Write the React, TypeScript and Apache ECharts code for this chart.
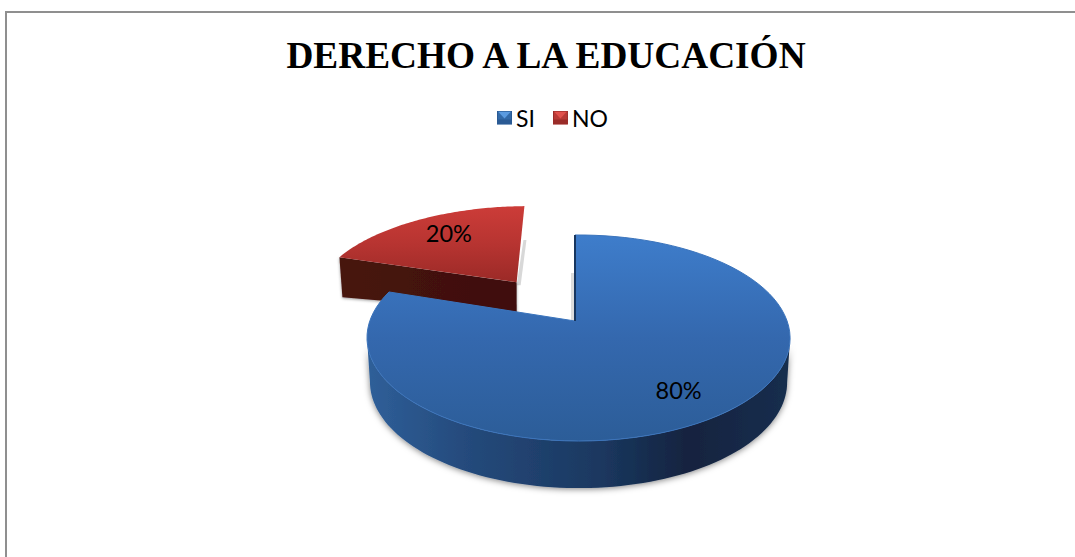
import React, { useEffect, useRef } from "react";
import * as echarts from "echarts";

const titleText = "DERECHO A LA EDUCACIÓN";
const categories = ["SI", "NO"];
const values = [80, 20];
const percentLabels = ["80%", "20%"];

// projection of the tilted disc onto the page
const CX = 575, CY = 321, KY = 100.2, PC = 0.165, PE = -0.0165;
const KX_BY_SLICE = [208.6, 216];
const DY_BY_SLICE = [0, -1.5];
const EXPLODE = [0, 0.492];
const LABEL_R = [0.754, 0.72];
const LABEL_DX = [0, 5];
const LABEL_DY = [0, -2.5];

function project(s: number, u: number, kx: number): [number, number] {
  const w = 1 + PC * u + PE * s;
  return [CX + (kx * s) / w, CY - (KY * u) / w];
}
const total = values.reduce((a, b) => a + b, 0);
function sliceAngles(i: number): [number, number] {
  let a = 0;
  for (let k = 0; k < i; k++) a += values[k];
  return [(a / total) * Math.PI * 2, ((a + values[i]) / total) * Math.PI * 2];
}
function point(i: number, theta: number, r = 1): [number, number] {
  const [a, b] = sliceAngles(i);
  const mid = (a + b) / 2;
  const e = EXPLODE[i];
  const p = project(r * Math.sin(theta) + e * Math.sin(mid), r * Math.cos(theta) + e * Math.cos(mid), KX_BY_SLICE[i]);
  return [p[0], p[1] + DY_BY_SLICE[i]];
}
function arc(i: number, from: number, to: number, n = 90): [number, number][] {
  const out: [number, number][] = [];
  for (let k = 0; k <= n; k++) out.push(point(i, from + ((to - from) * k) / n));
  return out;
}
const lowerBlue = (p: [number, number]): [number, number] => {
  const d = 44 + (p[1] - 338) * 0.03;
  return [578.5 + (p[0] - 578.5) * 0.986, p[1] + d];
};
const lowerRed = (p: [number, number]): [number, number] => {
  const d = 30 + ((518 - p[0]) * 10) / 178;
  return [p[0] + ((518 - p[0]) * 3) / 178, p[1] + d];
};
const vgrad = (stops: [number, string][]) => ({
  type: "linear", x: 0, y: 0, x2: 0, y2: 1, global: false,
  colorStops: stops.map(([offset, color]) => ({ offset, color })),
});
const hgrad = (stops: [number, string][]) => ({
  type: "linear", x: 0, y: 0, x2: 1, y2: 0, global: false,
  colorStops: stops.map(([offset, color]) => ({ offset, color })),
});

function labelOf(i: number, text: string) {
  const [a, b] = sliceAngles(i);
  const mid = (a + b) / 2;
  const p = point(i, mid, LABEL_R[i]);
  return {
    type: "text",
    style: {
      text, x: p[0] + LABEL_DX[i], y: p[1] + LABEL_DY[i], align: "center", verticalAlign: "middle",
      font: "23.5px Lato, sans-serif", fill: "#000",
    },
    z2: 10,
  };
}

// widest points of the disc: the side wall runs between them
function extremeAngles(i: number): [number, number] {
  let best: [number, number] = [0, 0];
  let maxX = -Infinity, minX = Infinity;
  for (let k = 0; k < 720; k++) {
    const t = (k / 720) * Math.PI * 2;
    const x = point(i, t)[0];
    if (x > maxX) { maxX = x; best[0] = t; }
    if (x < minX) { minX = x; best[1] = t; }
  }
  return best;
}

function renderBlue(_: any, api: any) {
  const i = categories.indexOf("SI");
  const [a, b] = sliceAngles(i);
  const top = arc(i, a, b);
  const apex = point(i, 0, 0);
  const [tr, tl] = extremeAngles(i);
  const wallTop = arc(i, tr, Math.min(tl, b));
  const wall = wallTop.concat(wallTop.map(lowerBlue).reverse());
  api.value(0);
  return {
    type: "group",
    children: [
      {
        type: "polygon", shape: { points: [[571, 273], [575, 273], [576, 321], [571, 320]] },
        style: { fill: "#dcdcdc" },
      },
      {
        type: "polygon", shape: { points: wall },
        style: {
          fill: hgrad([[0, "#2f5f99"], [0.25, "#24497a"], [0.55, "#1b3860"], [0.76, "#12233f"], [1, "#172e4e"]]),
          shadowBlur: 6, shadowColor: "rgba(0,0,0,0.5)", shadowOffsetY: 1,
        },
      },
      {
        type: "polygon", shape: { points: top.concat([apex]) },
        style: {
          fill: vgrad([[0, "#3e7dcb"], [0.5, "#3468ae"], [1, "#2c5d98"]]),
          stroke: "#3b74bc", lineWidth: 1,
        },
      },
      {
        type: "polyline", shape: { points: [top[0], apex] },
        style: { stroke: "#17365f", lineWidth: 2, fill: "none" },
      },
      labelOf(i, percentLabels[i]),
    ],
  };
}

function renderRed(_: any, api: any) {
  const i = categories.indexOf("NO");
  const top = arc(i, sliceAngles(i)[0], sliceAngles(i)[1]);
  const apex = point(i, 0, 0);
  const face = [top[0], apex, lowerRed(apex), lowerRed(top[0])];
  const end = top[top.length - 1];
  api.value(0);
  return {
    type: "group",
    children: [
      {
        type: "polygon",
        shape: { points: [[end[0] - 1, end[1] + 34], [end[0] + 2, end[1] + 34], [apex[0] + 4, apex[1] + 3], [apex[0], apex[1] + 3]] },
        style: { fill: "#d8d8d8" },
      },
      {
        type: "polygon", shape: { points: face },
        style: {
          fill: hgrad([[0, "#471411"], [1, "#3f0f0d"]]),
          shadowBlur: 3, shadowColor: "rgba(0,0,0,0.4)", shadowOffsetY: 1,
        },
      },
      {
        type: "polygon", shape: { points: top.concat([apex]) },
        style: { fill: vgrad([[0, "#cc3c38"], [0.5, "#b73431"], [1, "#9b2a27"]]) },
      },
      labelOf(i, percentLabels[i]),
    ],
  };
}

const iconSvg = (light: string, mid: string, dark: string) =>
  "image://data:image/svg+xml," +
  encodeURIComponent(
    `<svg xmlns="http://www.w3.org/2000/svg" width="15" height="14" viewBox="0 0 15 14"><rect width="15" height="14" fill="${mid}"/><rect y="9" width="15" height="5" fill="${dark}"/><polygon points="1,1 14,1 7.5,8" fill="${light}"/><rect x="0.5" y="0.5" width="14" height="13" fill="none" stroke="${dark}"/></svg>`
  );

export default function App() {
  const ref = useRef<HTMLDivElement>(null);
  useEffect(() => {
    document.body.style.margin = "0";
    document.body.style.overflow = "hidden";
    const chart = echarts.init(ref.current!, undefined, { renderer: "svg" });
    chart.setOption({
      animation: false,
      backgroundColor: "#fff",
      title: {
        text: titleText,
        left: 541,
        top: 32,
        textAlign: "center",
        textStyle: {
          fontFamily: "'Liberation Serif', serif",
          fontWeight: "bold",
          fontSize: 37.3,
          color: "#000",
        },
      },
      legend: {
        left: 492,
        top: 101,
        selectedMode: false,
        itemWidth: 15,
        itemHeight: 14,
        itemGap: 18,
        textStyle: { fontFamily: "Lato, sans-serif", fontSize: 23, color: "#000", padding: [0, 0, 0, -1] },
        data: [
          { name: "SI", icon: iconSvg("#5b9be0", "#336aa8", "#2a5a94") },
          { name: "NO", icon: iconSvg("#e0514c", "#b83a36", "#9a2c29") },
        ],
      },
      graphic: [
        {
          type: "polyline",
          shape: { points: [[6, 557], [6, 12], [1075, 12]] },
          style: { stroke: "#8f8f8f", lineWidth: 2, fill: "none" },
          silent: true,
        },
      ],
      series: [
        { type: "custom", name: "NO", coordinateSystem: "none", color: "#b73431", renderItem: renderRed, data: [[values[1]]], silent: true },
        { type: "custom", name: "SI", coordinateSystem: "none", color: "#3468ae", renderItem: renderBlue, data: [[values[0]]], silent: true },
      ],
    });
    return () => chart.dispose();
  }, []);
  return <div ref={ref} style={{ position: "absolute", left: 0, top: 0, width: 1075, height: 557 }} />;
}
